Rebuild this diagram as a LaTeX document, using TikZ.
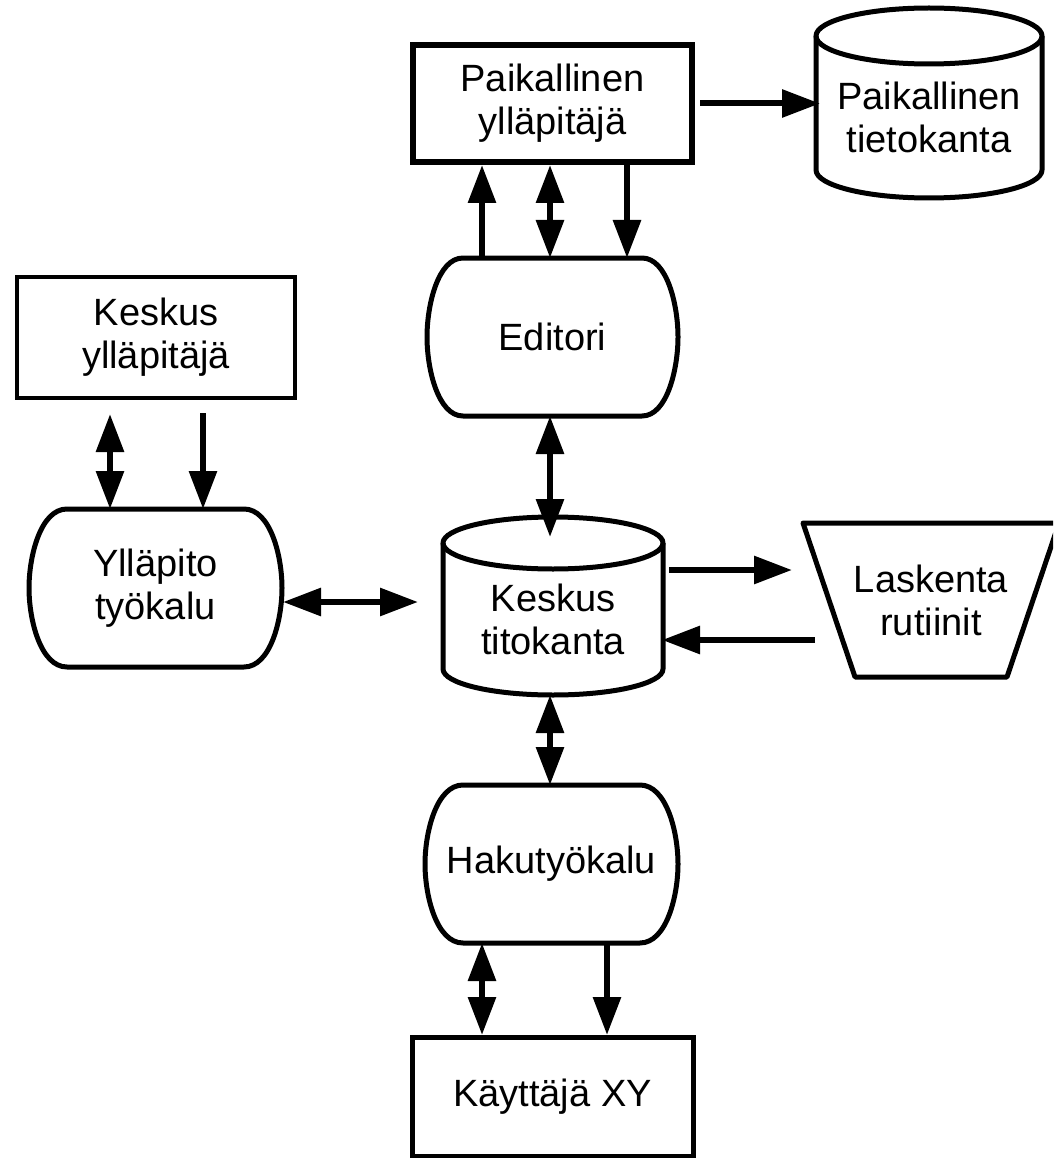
\documentclass[tikz,border=0pt]{standalone}
\usepackage{fontspec}
\setmainfont{Liberation Sans}
\usetikzlibrary{arrows.meta,calc}

% block outline drawn around a hidden placeholder node: flat top and bottom, bulging sides
\newcommand\toolshape[2]{%
  \draw[shp] ($(#1.north west)+(#2,0)$) -- ($(#1.north east)+(-#2,0)$)
    .. controls ($(#1.north east)+(-0.3*#2,0)$) and ($(#1.north east)!0.6!(#1.east)$) .. (#1.east)
    .. controls ($(#1.south east)!0.6!(#1.east)$) and ($(#1.south east)+(-0.3*#2,0)$) .. ($(#1.south east)+(-#2,0)$)
    -- ($(#1.south west)+(#2,0)$)
    .. controls ($(#1.south west)+(0.3*#2,0)$) and ($(#1.south west)!0.6!(#1.west)$) .. (#1.west)
    .. controls ($(#1.north west)!0.6!(#1.west)$) and ($(#1.north west)+(0.3*#2,0)$) .. cycle;}

% database cylinder: node spans from the centre of the top ellipse to the bottom of the lower arc
\newcommand\dbcyl[3]{%
  \draw[shp] (#1.north west) -- ($(#1.south west)+(0,-#3)$)
    arc[start angle=180,end angle=360,x radius=#2pt,y radius=#3pt] -- (#1.north east);
  \draw[shp] (#1.north) ellipse[x radius=#2pt,y radius=#3pt];}

\tikzset{
  lbl/.style={font=\fontsize{38}{43}\selectfont, align=center, text=black},
  box/.style={lbl, draw, rectangle, inner sep=0pt},
  hold/.style={lbl, rectangle, inner sep=0pt, outer sep=0pt},
  shp/.style={line width=5pt, line join=round},
  one/.style={line width=6pt, -{Triangle[length=38pt,width=27pt]}},
  both/.style={line width=6pt, {Triangle[length=38pt,width=27pt]}-{Triangle[length=38pt,width=27pt]}},
}

\begin{document}
\begin{tikzpicture}[x=1pt,y=-1pt]
\useasboundingbox (0,0) rectangle (1053,1158);
\clip (0,0) rectangle (1053,1158);

% rectangular blocks
\node[box, line width=6pt, minimum width=279pt, minimum height=117pt] (py) at (552.5,103.5) {Paikallinen\\ylläpitäjä};
\node[box, line width=4pt, minimum width=278pt, minimum height=121pt] (ky) at (156,337.5) {Keskus\\ylläpitäjä};
\node[box, line width=5pt, minimum width=281pt, minimum height=118.5pt] (kx) at (552.5,1096.75) {Käyttäjä XY};

% placeholders for the drawn outlines
\node[hold, minimum width=226pt, minimum height=162pt] (pt) at (929,117) {Paikallinen\\tietokanta};
\node[hold, minimum width=251pt, minimum height=158pt] (ed) at (552.5,337) {Editori};
\node[hold, minimum width=253pt, minimum height=158pt] (yt) at (155.5,588) {Ylläpito\\työkalu};
\node[hold, minimum width=220pt, minimum height=152pt] (kt) at (553,619) {Keskus\\titokanta};
\node[hold, minimum width=256pt, minimum height=154pt] (lk) at (931,600) {Laskenta\\rutiinit};
\node[hold, minimum width=253pt, minimum height=158pt] (hk) at (551.5,864) {Hakutyökalu};

% outlines
\dbcyl{pt}{113}{28}
\dbcyl{kt}{110}{26}
\toolshape{ed}{36}
\toolshape{yt}{38}
\toolshape{hk}{38}
\draw[shp] (lk.north west) -- (lk.north east) -- ($(lk.south east)+(-52,0)$) -- ($(lk.south west)+(52,0)$) -- cycle;

% connectors
\draw[one] ($(py.east)+(5,0)$) -- ($(pt.west |- py.east)+(4,0)$);

\draw[one]  ($(ed.north)+(-70.5,0)$) -- ($(py.south)+(-70.5,0)$);
\draw[both] ($(ed.north)+(-2.5,0)$) -- ($(py.south)+(-2.5,0)$);
\draw[one]  ($(py.south)+(74.5,0)$) -- ($(ed.north)+(74.5,0)$);

\draw[both] ($(ky.south)+(-46,14)$) -- ($(yt.north)+(-45.5,0)$);
\draw[one]  ($(ky.south)+(47,13)$) -- ($(yt.north)+(47.5,0)$);

\draw[both] ($(yt.east)+(1,14)$) -- ($(kt.west)+(-25,-17)$);

\draw[both] ($(ed.south)+(-2.5,0)$) -- ($(kt.north)+(-3,-6)$);

\draw[one] ($(kt.east)+(6,-49)$) -- ($(lk.west)+(-11,-30)$);
\draw[one] ($(lk.west)+(12,40)$) -- ($(kt.east)+(-1,21)$);

\draw[both] ($(kt.south)+(-3,0)$) -- ($(hk.north)+(-1.5,0)$);

\draw[both] ($(hk.south)+(-69.5,0)$) -- ($(kx.north)+(-70.5,0)$);
\draw[one]  ($(hk.south)+(55.5,0)$) -- ($(kx.north)+(54.5,0)$);
\end{tikzpicture}
\end{document}
